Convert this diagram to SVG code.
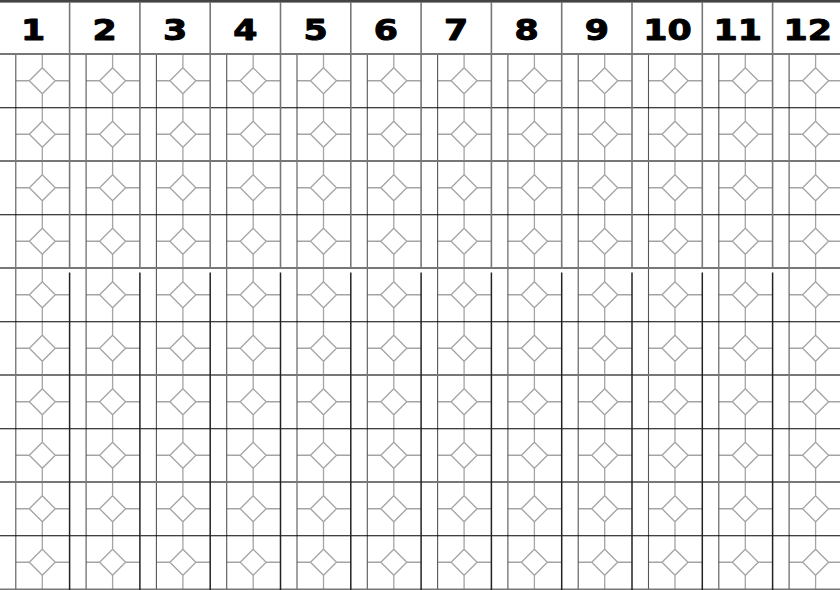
<svg xmlns="http://www.w3.org/2000/svg" xmlns:xlink="http://www.w3.org/1999/xlink" width="840" height="590" viewBox="0 0 840 590">
<style>
.num{font-family:"DejaVu Sans","Liberation Sans",sans-serif;font-weight:bold;font-size:29px;text-anchor:middle;fill:#000;stroke:#000;stroke-width:1;stroke-linejoin:round}
.orn{fill:none;stroke:#a4a4a4;stroke-width:1.3}
.inner{stroke:#555;stroke-width:1.1}
.hdiv{stroke:#777;stroke-width:1.6}
.ldiv{stroke:#222;stroke-width:1.5}
.rowg{stroke:#777;stroke-width:2}
.rowb{stroke:#000;stroke-width:1.1}
</style>
<defs>
<path id="cell" class="orn" d="M43,0V13.75M43,39.75V53.5M16.5,26.75H30M56,26.75H70.3M43,13.75L56,26.75L43,39.75L30,26.75Z"/>
<g id="column">
<use xlink:href="#cell" y="0"/>
<use xlink:href="#cell" y="53.5"/>
<use xlink:href="#cell" y="107"/>
<use xlink:href="#cell" y="160.5"/>
<use xlink:href="#cell" y="214"/>
<use xlink:href="#cell" y="267.5"/>
<use xlink:href="#cell" y="321"/>
<use xlink:href="#cell" y="374.5"/>
<use xlink:href="#cell" y="428"/>
<use xlink:href="#cell" y="481.5"/>
<line class="inner" x1="16.5" y1="0" x2="16.5" y2="536"/>
</g>
</defs>
<rect x="0" y="0" width="840" height="590" fill="#fff"/>
<rect x="0" y="0" width="840" height="2.6" fill="#444"/>
<g id="columns">
<g id="col1" transform="translate(-0.7,54)"><use xlink:href="#column"/></g>
<g id="col2" transform="translate(69.6,54)"><use xlink:href="#column"/></g>
<g id="col3" transform="translate(139.9,54)"><use xlink:href="#column"/></g>
<g id="col4" transform="translate(210.2,54)"><use xlink:href="#column"/></g>
<g id="col5" transform="translate(280.5,54)"><use xlink:href="#column"/></g>
<g id="col6" transform="translate(350.8,54)"><use xlink:href="#column"/></g>
<g id="col7" transform="translate(421.1,54)"><use xlink:href="#column"/></g>
<g id="col8" transform="translate(491.4,54)"><use xlink:href="#column"/></g>
<g id="col9" transform="translate(561.7,54)"><use xlink:href="#column"/></g>
<g id="col10" transform="translate(632,54)"><use xlink:href="#column"/></g>
<g id="col11" transform="translate(702.3,54)"><use xlink:href="#column"/></g>
<g id="col12" transform="translate(772.6,54)"><use xlink:href="#column"/></g>
</g>
<g id="rows">
<line class="rowb" x1="0" y1="107.75" x2="840" y2="107.75"/>
<line class="rowb" x1="0" y1="214.75" x2="840" y2="214.75"/>
<line class="rowb" x1="0" y1="321.75" x2="840" y2="321.75"/>
<line class="rowb" x1="0" y1="428.75" x2="840" y2="428.75"/>
<line class="rowb" x1="0" y1="535.75" x2="840" y2="535.75"/>
<line class="rowg" x1="0" y1="54" x2="840" y2="54"/>
<line class="rowg" x1="0" y1="161" x2="840" y2="161"/>
<line class="rowg" x1="0" y1="268" x2="840" y2="268"/>
<line class="rowg" x1="0" y1="375" x2="840" y2="375"/>
<line class="rowg" x1="0" y1="482" x2="840" y2="482"/>
<line class="rowg" x1="0" y1="589.5" x2="840" y2="589.5"/>
</g>
<g id="dividers">
<g id="upper-dividers">
<line class="hdiv" x1="69.6" y1="2" x2="69.6" y2="269"/>
<line class="hdiv" x1="139.9" y1="2" x2="139.9" y2="269"/>
<line class="hdiv" x1="210.2" y1="2" x2="210.2" y2="269"/>
<line class="hdiv" x1="280.5" y1="2" x2="280.5" y2="269"/>
<line class="hdiv" x1="350.8" y1="2" x2="350.8" y2="269"/>
<line class="hdiv" x1="421.1" y1="2" x2="421.1" y2="269"/>
<line class="hdiv" x1="491.4" y1="2" x2="491.4" y2="269"/>
<line class="hdiv" x1="561.7" y1="2" x2="561.7" y2="269"/>
<line class="hdiv" x1="632" y1="2" x2="632" y2="269"/>
<line class="hdiv" x1="702.3" y1="2" x2="702.3" y2="269"/>
<line class="hdiv" x1="772.6" y1="2" x2="772.6" y2="269"/>
</g>
<g id="lower-dividers">
<line class="ldiv" x1="69.6" y1="272.5" x2="69.6" y2="590" stroke="#000"/>
<line class="ldiv" x1="139.9" y1="272.5" x2="139.9" y2="590"/>
<line class="ldiv" x1="210.2" y1="272.5" x2="210.2" y2="590"/>
<line class="ldiv" x1="280.5" y1="272.5" x2="280.5" y2="590" stroke="#000"/>
<line class="ldiv" x1="350.8" y1="272.5" x2="350.8" y2="590"/>
<line class="ldiv" x1="421.1" y1="272.5" x2="421.1" y2="590"/>
<line class="ldiv" x1="491.4" y1="272.5" x2="491.4" y2="590" stroke="#000"/>
<line class="ldiv" x1="561.7" y1="272.5" x2="561.7" y2="590"/>
<line class="ldiv" x1="632" y1="272.5" x2="632" y2="590"/>
<line class="ldiv" x1="702.3" y1="272.5" x2="702.3" y2="590" stroke="#000"/>
<line class="ldiv" x1="772.6" y1="272.5" x2="772.6" y2="590"/>
</g>
</g>
<g id="header">
<text class="num" transform="translate(33,40) scale(1.2,1)">1</text>
<text class="num" transform="translate(104.7,40) scale(1.2,1)">2</text>
<text class="num" transform="translate(175,40) scale(1.2,1)">3</text>
<text class="num" transform="translate(245.3,40) scale(1.2,1)">4</text>
<text class="num" transform="translate(315.6,40) scale(1.2,1)">5</text>
<text class="num" transform="translate(385.9,40) scale(1.2,1)">6</text>
<text class="num" transform="translate(456.2,40) scale(1.2,1)">7</text>
<text class="num" transform="translate(526.5,40) scale(1.2,1)">8</text>
<text class="num" transform="translate(596.8,40) scale(1.2,1)">9</text>
<text class="num" transform="translate(667.5,40) scale(1.2,1)">10</text>
<text class="num" transform="translate(737.8,40) scale(1.2,1)">11</text>
<text class="num" transform="translate(807.7,40) scale(1.2,1)">12</text>
</g>
</svg>
